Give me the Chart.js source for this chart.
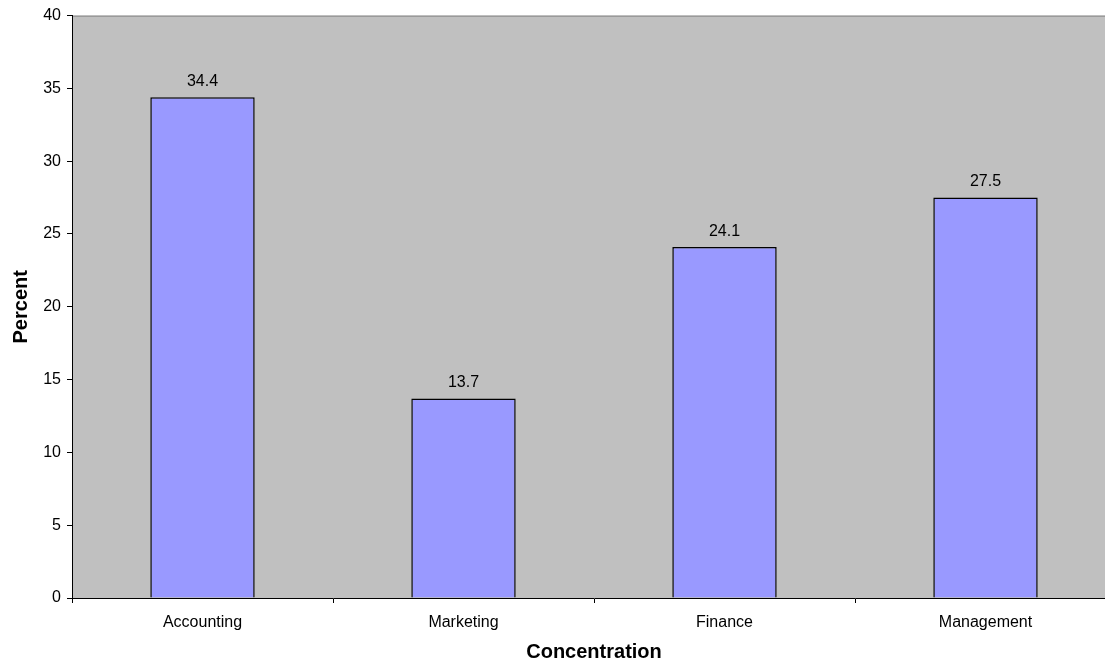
<!DOCTYPE html>
<html>
<head>
<meta charset="utf-8">
<script src="https://cdn.jsdelivr.net/npm/chart.js@4/dist/chart.umd.min.js"></script>
<style>
  html, body { margin: 0; padding: 0; background: #fff; overflow: hidden; }
  #wrap { width: 1125px; height: 666px; }
</style>
</head>
<body>
<div id="wrap"><canvas id="barChart" width="1125" height="666"></canvas></div>
<script>
// concentration shares
let concentrations = ['Accounting', 'Marketing', 'Finance', 'Management'];
let percents = [34.4, 13.7, 24.1, 27.5];

let fontFamily = '"Liberation Sans", Arial, sans-serif';

// grey plot background plus the grey top border line
let plotBackground = {
    id: 'plotBackground',
    beforeDraw: function (chart) {
        let a = chart.chartArea;
        let ctx = chart.ctx;
        ctx.save();
        ctx.fillStyle = '#c0c0c0';
        ctx.fillRect(a.left, a.top, a.right - a.left, a.bottom - a.top);
        ctx.strokeStyle = '#808080';
        ctx.lineWidth = 1;
        ctx.beginPath();
        ctx.moveTo(a.left, a.top + 0.5);
        ctx.lineTo(a.right, a.top + 0.5);
        ctx.stroke();
        ctx.restore();
    }
};

// value printed above each bar
let barValues = {
    id: 'barValues',
    afterDatasetsDraw: function (chart) {
        let ctx = chart.ctx;
        let meta = chart.getDatasetMeta(0);
        ctx.save();
        ctx.font = '16px ' + fontFamily;
        ctx.fillStyle = '#000';
        ctx.textAlign = 'center';
        ctx.textBaseline = 'middle';
        meta.data.forEach(function (bar, i) {
            ctx.fillText(percents[i].toFixed(1), bar.x, bar.y - 16);
        });
        ctx.restore();
    }
};

let ctx = document.getElementById('barChart').getContext('2d');
let myChart = new Chart(ctx, {
    type: 'bar',
    data: {
        labels: concentrations,
        datasets: [{
            label: 'Percent',
            data: percents,
            backgroundColor: '#9999ff',
            borderColor: '#000000',
            borderWidth: 1.5,
            borderSkipped: 'bottom',
            categoryPercentage: 1.0,
            barPercentage: 0.4
        }]
    },
    options: {
        responsive: false,
        animation: false,
        layout: { padding: { top: 15, right: 9, bottom: 0, left: 0 } },
        plugins: {
            legend: { display: false },
            tooltip: { enabled: false }
        },
        scales: {
            x: {
                afterFit: function (scale) { scale.height = 68; },
                grid: {
                    offset: true,
                    drawOnChartArea: false,
                    tickLength: 5,
                    color: '#000'
                },
                border: { color: '#000', width: 1 },
                ticks: {
                    color: '#000',
                    padding: 10,
                    font: { family: fontFamily, size: 16 }
                },
                title: {
                    display: true,
                    text: 'Concentration',
                    color: '#000',
                    padding: { top: 5, bottom: 2 },
                    font: { family: fontFamily, size: 20, weight: 'bold' }
                }
            },
            y: {
                min: 0,
                max: 40,
                afterFit: function (scale) { scale.width = 72; },
                grid: {
                    drawOnChartArea: false,
                    tickLength: 5,
                    color: '#000'
                },
                border: { color: '#000', width: 1 },
                ticks: {
                    stepSize: 5,
                    color: '#000',
                    padding: 6,
                    font: { family: fontFamily, size: 16 }
                },
                title: {
                    display: true,
                    text: 'Percent',
                    color: '#000',
                    padding: { top: 9, bottom: 0 },
                    font: { family: fontFamily, size: 20, weight: 'bold' }
                }
            }
        }
    },
    plugins: [plotBackground, barValues]
});
</script>
</body>
</html>
